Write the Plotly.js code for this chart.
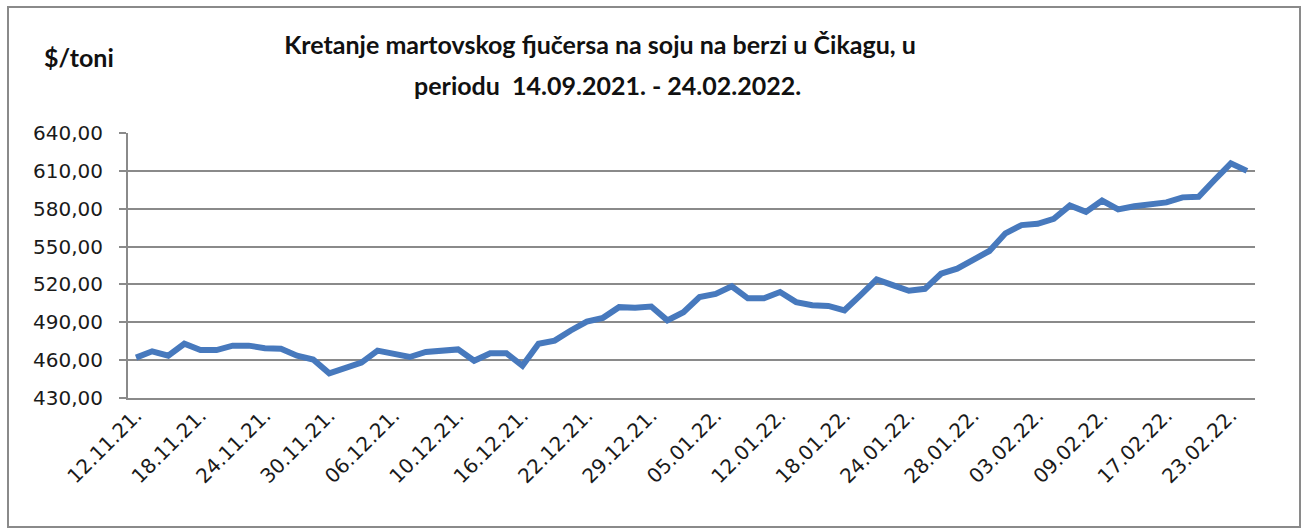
<!DOCTYPE html>
<html>
<head>
<meta charset="utf-8">
<script src="https://cdn.plot.ly/plotly-3.0.1.min.js"></script>
<style>
  html, body { margin: 0; padding: 0; background: #ffffff; }
  #chart { width: 1306px; height: 529px; }
</style>
</head>
<body>
<div id="chart"></div>
<script>
// ---- data ----
const tickLabels = ["12.11.21.", "18.11.21.", "24.11.21.", "30.11.21.", "06.12.21.", "10.12.21.",
  "16.12.21.", "22.12.21.", "29.12.21.", "05.01.22.", "12.01.22.", "18.01.22.",
  "24.01.22.", "28.01.22.", "03.02.22.", "09.02.22.", "17.02.22.", "23.02.22."];
const labelStep = 4; // one label every 4 trading days
const prices = [
  462, 467, 463.5, 473, 468, 468, 471.5, 471.5, 469.5, 469,
  463.5, 460.5, 449.5, 453.5, 458, 467.5, 464.5, 462.5, 466.5, 467.5,
  468.5, 459.5, 465.5, 465.5, 455.5, 473, 475.5, 483.5, 490.5, 493.5,
  502, 501.5, 502.5, 491.5, 498, 510, 512.5, 518.5, 509, 509,
  514, 506, 503.5, 503, 499.5, 511.5, 524, 519.5, 515, 516.5,
  528.5, 532.5, 539, 546.5, 560.5, 567, 568, 572, 582.5, 577.5,
  586.5, 579.5, 582, 584, 585, 589, 589.5, 603, 616, 610
];
const yTicks = [430, 460, 490, 520, 550, 580, 610, 640];
const titleLine1 = "Kretanje martovskog fjučersa na soju na berzi u Čikagu, u";
const titleLine2 = "periodu&nbsp; 14.09.2021. - 24.02.2022.";
const unitLabel = "$/toni";

// ---- build ----
const xIdx = prices.map((_, i) => i);
const tickVals = tickLabels.map((_, i) => i * labelStep);

const W = 1306, H = 529;
const L = 128, R = 51, T = 133, B = 131;
const pw = W - L - R, ph = H - T - B;
const px = v => (v - L) / pw;          // pixel -> paper x
const py = v => (H - B - v) / ph;      // pixel -> paper y

const grey = "#8a8a8a";
const titleFont = { family: "Lato, 'Open Sans', sans-serif", size: 25, color: "#111111", weight: 700 };

const trace = {
  type: "scatter",
  mode: "lines",
  x: xIdx,
  y: prices,
  line: { color: "#4779bd", width: 6, shape: "linear" },
  hoverinfo: "y"
};

const layout = {
  width: W, height: H,
  margin: { l: L, r: R, t: T, b: B, pad: 0 },
  paper_bgcolor: "#ffffff",
  plot_bgcolor: "#ffffff",
  showlegend: false,
  separators: ", ",
  font: { family: "'DejaVu Sans', sans-serif", size: 20, color: "#1a1a1a" },
  title: {
    text: "<b>" + titleLine1 + "</b>",
    font: titleFont,
    x: 600 / W, xref: "container", xanchor: "center",
    y: 1 - 45 / H, yref: "container", yanchor: "middle"
  },
  xaxis: {
    range: [-0.5, prices.length - 0.5],
    tickmode: "array",
    tickvals: tickVals,
    ticktext: tickLabels,
    tickangle: -45,
    ticks: "",
    showgrid: false,
    zeroline: false,
    showline: true,
    linecolor: grey,
    linewidth: 2,
    ticklabelstandoff: -4,
    tickfont: { family: "'DejaVu Sans', sans-serif", size: 20, color: "#1a1a1a" },
    fixedrange: true
  },
  yaxis: {
    range: [430, 640],
    tickmode: "array",
    tickvals: yTicks,
    tickformat: ".2f",
    ticks: "outside",
    ticklen: 7,
    tickwidth: 2,
    tickcolor: grey,
    ticklabelstandoff: 12,
    showgrid: true,
    gridcolor: grey,
    gridwidth: 2,
    zeroline: false,
    showline: true,
    linecolor: grey,
    linewidth: 2,
    tickfont: { family: "'DejaVu Sans', sans-serif", size: 20, color: "#1a1a1a" },
    fixedrange: true
  },
  annotations: [
    {
      text: "<b>" + titleLine2 + "</b>",
      xref: "paper", yref: "paper",
      x: px(607), y: py(85),
      xanchor: "center", yanchor: "middle",
      showarrow: false,
      font: titleFont
    },
    {
      text: "<b>" + unitLabel + "</b>",
      xref: "paper", yref: "paper",
      x: px(79), y: py(57),
      xanchor: "center", yanchor: "middle",
      showarrow: false,
      font: titleFont
    }
  ],
  shapes: [
    {
      type: "rect", xref: "paper", yref: "paper",
      x0: px(8), x1: px(1300), y0: py(527), y1: py(7),
      line: { color: grey, width: 2 },
      fillcolor: "rgba(0,0,0,0)",
      layer: "below"
    }
  ]
};

Plotly.newPlot("chart", [trace], layout, { displayModeBar: false, staticPlot: true });
</script>
</body>
</html>
